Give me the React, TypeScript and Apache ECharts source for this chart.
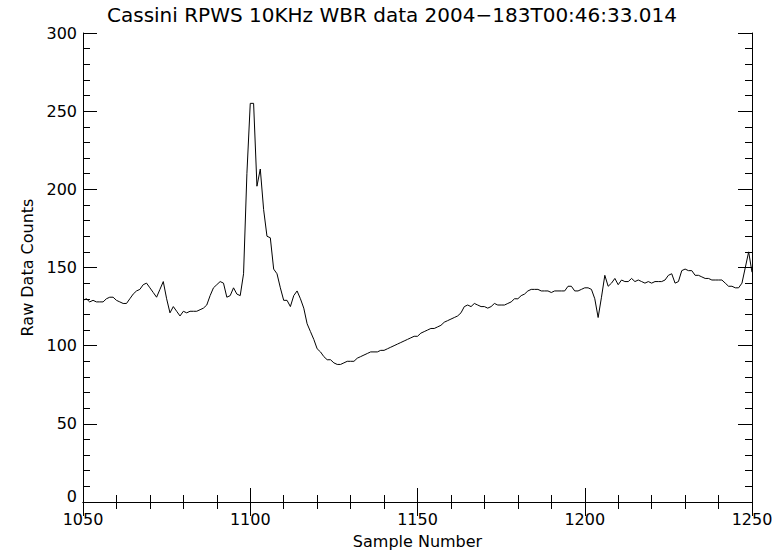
import React, { useEffect, useRef } from "react";
import * as echarts from "echarts";

const title = "Cassini RPWS 10KHz WBR data 2004\u2212183T00:46:33.014";
const xName = "Sample Number";
const yName = "Raw Data Counts";
const startSample = 1050;
const xMin = 1050;
const xMax = 1250;
const xInterval = 50;
const yMin = 0;
const yMax = 300;
const yInterval = 50;

const counts = [
  129, 130, 128, 129, 128, 128, 128, 130, 131, 131,
  129, 128, 127, 127, 130, 133, 135, 136, 139, 140,
  137, 134, 131, 136, 141, 130, 121, 125, 122, 119,
  122, 121, 122, 122, 122, 123, 124, 126, 132, 137,
  139, 141, 140, 131, 132, 137, 133, 132, 146, 210,
  255, 255, 202, 213, 187, 170, 169, 149, 146, 137,
  129, 129, 125, 132, 135, 130, 124, 114, 109, 104,
  98, 96, 93, 91, 91, 89, 88, 88, 89, 90,
  90, 90, 92, 93, 94, 95, 96, 96, 96, 97,
  97, 98, 99, 100, 101, 102, 103, 104, 105, 106,
  106, 108, 109, 110, 111, 111, 112, 113, 115, 116,
  117, 118, 119, 121, 125, 126, 125, 127, 126, 125,
  125, 124, 125, 127, 126, 126, 126, 127, 128, 130,
  130, 132, 133, 135, 136, 136, 136, 135, 135, 135,
  134, 135, 135, 135, 135, 138, 138, 135, 135, 136,
  137, 137, 136, 130, 118, 131, 145, 138, 140, 143,
  139, 142, 141, 141, 143, 141, 142, 141, 140, 141,
  140, 141, 141, 141, 142, 145, 146, 140, 141, 148,
  149, 148, 148, 145, 145, 144, 143, 143, 142, 142,
  142, 142, 140, 138, 138, 137, 137, 140, 150, 160,
  147,
];

const FONT = "DejaVu Sans";

export default function App() {
  const ref = useRef<HTMLDivElement>(null);
  useEffect(() => {
    if (!ref.current) return;
    const chart = echarts.init(ref.current, undefined, { renderer: "svg" });
    const data = counts.map((v, i) => [startSample + i, v]);
    const black = "#000";
    const tickCommon = {
      axisLine: { show: true, lineStyle: { color: black, width: 1 } },
      axisTick: { show: true, inside: true, length: 14, lineStyle: { color: black, width: 1 } },
      minorTick: { show: true, splitNumber: 5, length: 7, lineStyle: { color: black, width: 1 } },
      splitLine: { show: false },
      minorSplitLine: { show: false },
    };
    chart.setOption({
      animation: false,
      backgroundColor: "#fff",
      title: {
        text: title,
        left: "center",
        top: 0,
        textStyle: { fontFamily: FONT, fontSize: 20, fontWeight: "normal", color: black },
      },
      grid: { left: 83, right: 32, top: 33, bottom: 48, containLabel: false },
      xAxis: [
        {
          type: "value",
          position: "bottom",
          min: xMin,
          max: xMax,
          interval: xInterval,
          ...tickCommon,
          axisLabel: {
            color: black,
            fontSize: 16,
            fontFamily: FONT,
            margin: 10,
            lineHeight: 14,
            formatter: (v: number) => String(v),
          },
          name: xName,
          nameLocation: "middle",
          nameGap: 31,
          nameTextStyle: { color: black, fontSize: 16, fontFamily: FONT },
        },
        {
          type: "value",
          position: "top",
          min: xMin,
          max: xMax,
          interval: xInterval,
          ...tickCommon,
          axisLabel: { show: false },
        },
      ],
      yAxis: [
        {
          type: "value",
          position: "left",
          min: yMin,
          max: yMax,
          interval: yInterval,
          ...tickCommon,
          axisLabel: {
            color: black,
            fontSize: 16,
            fontFamily: FONT,
            margin: 6,
            lineHeight: 13,
            formatter: (v: number) => (v === 0 ? "{z|0}" : String(v)),
            rich: {
              z: { fontSize: 16, fontFamily: FONT, color: black, lineHeight: 13, padding: [0, 0, 12, 0] },
            },
          },
          name: yName,
          nameLocation: "middle",
          nameGap: 44,
          nameTextStyle: { color: black, fontSize: 16, fontFamily: FONT },
        },
        {
          type: "value",
          position: "right",
          min: yMin,
          max: yMax,
          interval: yInterval,
          ...tickCommon,
          axisLabel: { show: false },
        },
      ],
      series: [
        {
          type: "line",
          xAxisIndex: 0,
          yAxisIndex: 0,
          data,
          showSymbol: false,
          symbol: "none",
          lineStyle: { color: black, width: 1 },
          silent: true,
        },
      ],
    });
    return () => chart.dispose();
  }, []);
  return <div ref={ref} style={{ width: 784, height: 554, position: "absolute", left: 0, top: 0 }} />;
}
